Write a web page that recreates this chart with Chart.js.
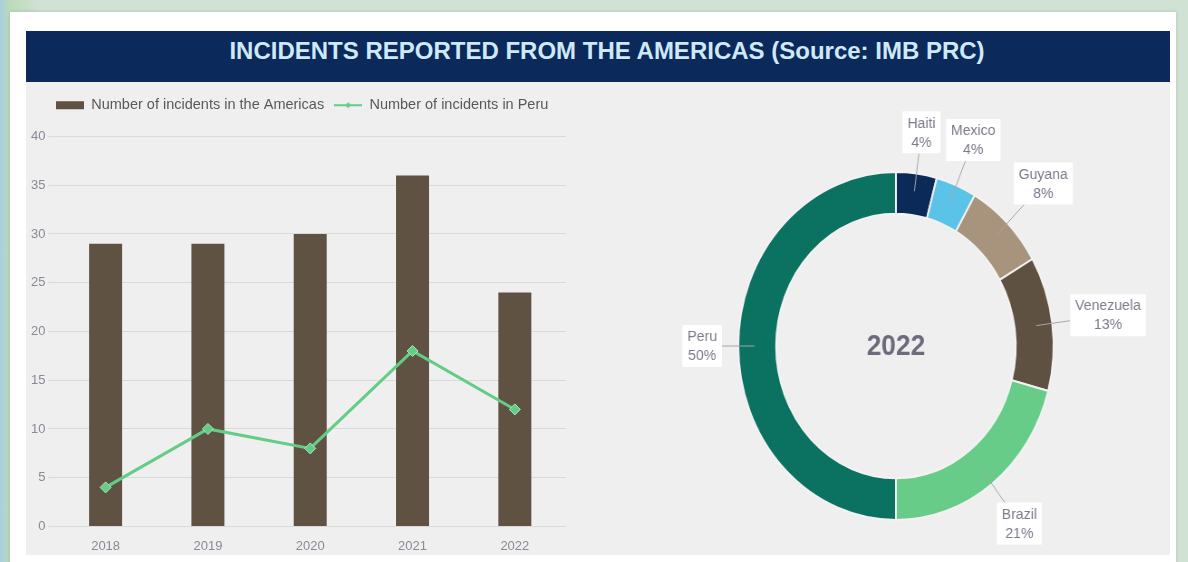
<!DOCTYPE html>
<html>
<head>
<meta charset="utf-8">
<script src="https://cdn.jsdelivr.net/npm/chart.js@4.4.1/dist/chart.umd.min.js"></script>
<style>
  html, body { margin: 0; padding: 0; width: 1188px; height: 562px; overflow: hidden; }
  body {
    position: relative;
    background: linear-gradient(90deg, #a9cfe0 0, #bcdcb8 10px, #cfe2d3 40px, #cfe2d3 100%);
    font-family: "Liberation Sans", Arial, sans-serif;
  }
  #card { position: absolute; left: 10px; top: 12px; width: 1166px; height: 560px; background: #fff; box-shadow: 0 0 4px rgba(0,0,0,0.15); }
  #title {
    position: absolute; left: 26px; top: 31px; width: 1126px; height: 51px; padding-left: 18px;
    background: #0b2a5b; color: #cfe9f8; font-weight: bold; font-size: 24px;
    text-align: center; line-height: 40px;
  }
  #panel { position: absolute; left: 26px; top: 82px; width: 1144px; height: 473px; background: #efefef; }
  #bar { position: absolute; left: 26px; top: 88px; }
  #donut { position: absolute; left: 664px; top: 90px; transform: scaleX(0.906); transform-origin: 0 0; }
</style>
</head>
<body>
<div id="card"></div>
<div id="title">INCIDENTS REPORTED FROM THE AMERICAS (Source: IMB PRC)</div>
<div id="panel"></div>
<canvas id="bar" width="548" height="481"></canvas>
<canvas id="donut" width="560" height="462"></canvas>
<script>
const FONT = '"Liberation Sans", Arial, sans-serif';

// left chart
const years = ['2018', '2019', '2020', '2021', '2022'];
const americasIncidents = [29, 29, 30, 36, 24];
const peruIncidents = [4, 10, 8, 18, 12];
const americasLabel = 'Number of incidents in the Americas';
const peruLabel = 'Number of incidents in Peru';

// donut (2022 breakdown)
const countries = ['Haiti', 'Mexico', 'Guyana', 'Venezuela', 'Brazil', 'Peru'];
const incidents2022 = [1, 1, 2, 3, 5, 12];
const countryColors = ['#0b2a5a', '#5cc3e8', '#a8937c', '#5f5141', '#66cc88', '#0b7261'];

const BROWN = '#5f5242';
const GREEN = '#63cd86';

// legend swatches
function swatch(drawFn) {
  const c = document.createElement('canvas');
  c.width = 28; c.height = 10;
  drawFn(c.getContext('2d'));
  return c;
}
const barSwatch = swatch(ctx => { ctx.fillStyle = BROWN; ctx.fillRect(0, 1, 28, 8); });
const lineSwatch = swatch(ctx => {
  ctx.strokeStyle = GREEN; ctx.lineWidth = 2;
  ctx.beginPath(); ctx.moveTo(0, 5); ctx.lineTo(28, 5); ctx.stroke();
  ctx.fillStyle = GREEN;
  ctx.beginPath(); ctx.moveTo(14, 2); ctx.lineTo(17, 5); ctx.lineTo(14, 8); ctx.lineTo(11, 5); ctx.closePath(); ctx.fill();
});

// push legend right and leave a gap under it
const legendTweak = {
  id: 'legendTweak',
  afterInit(chart) {
    const lg = chart.legend;
    const fit = lg.fit;
    lg.fit = function () { fit.call(this); this.height += 14; };
  },
  afterLayout(chart) { chart.legend.left += 18; }
};

new Chart(document.getElementById('bar'), {
  type: 'bar',
  data: {
    labels: years,
    datasets: [
      {
        type: 'bar', label: americasLabel, data: americasIncidents,
        backgroundColor: BROWN, barPercentage: 0.645, categoryPercentage: 0.5, order: 2
      },
      {
        type: 'line', label: peruLabel, data: peruIncidents,
        borderColor: GREEN, borderWidth: 3, pointStyle: 'rectRot', pointRadius: 5.5,
        pointBackgroundColor: GREEN, pointBorderColor: '#a9e4bd', pointBorderWidth: 1, order: 1
      }
    ]
  },
  options: {
    responsive: false,
    animation: false,
    layout: { padding: { left: 2, right: 8, bottom: 3 } },
    plugins: {
      tooltip: { enabled: false },
      legend: {
        align: 'start',
        labels: {
          usePointStyle: true,
          pointStyleWidth: 28,
          padding: 10,
          color: '#595959',
          font: { size: 14.5, family: FONT },
          sort: (a, b) => a.datasetIndex - b.datasetIndex,
          generateLabels(chart) {
            const items = Chart.defaults.plugins.legend.labels.generateLabels(chart);
            items.forEach(it => { it.pointStyle = it.datasetIndex === 0 ? barSwatch : lineSwatch; });
            return items;
          }
        }
      }
    },
    scales: {
      x: {
        grid: { display: false, drawTicks: false },
        border: { display: false },
        ticks: { padding: 12, color: '#8a8a96', font: { size: 13, family: FONT } }
      },
      y: {
        min: 0, max: 40,
        ticks: { stepSize: 5, padding: 3, color: '#8a8a96', font: { size: 13, family: FONT } },
        grid: { color: '#d9d9d9', tickLength: 6 },
        border: { display: false }
      }
    }
  },
  plugins: [legendTweak]
});

const donutLabels = {
  id: 'donutLabels',
  afterDraw(chart) {
    const ctx = chart.ctx;
    const meta = chart.getDatasetMeta(0);
    const data = chart.data.datasets[0].data;
    const total = data.reduce((a, b) => a + b, 0);
    ctx.save();
    ctx.font = '15.5px ' + FONT;
    ctx.textAlign = 'center';
    ctx.textBaseline = 'middle';
    meta.data.forEach((arc, i) => {
      const p = arc.getProps(['x', 'y', 'startAngle', 'endAngle', 'outerRadius', 'innerRadius'], true);
      const a = (p.startAngle + p.endAngle) / 2;
      const lines = [chart.data.labels[i], Math.round(data[i] / total * 100) + '%'];
      const w = Math.max(...lines.map(t => ctx.measureText(t).width)) + 11;
      const h = 42;
      const cosA = Math.cos(a), sinA = Math.sin(a);
      // keep the box's near edge a fixed gap outside the ring
      const lr = p.outerRadius + 18 + (w / 2) * Math.abs(cosA) + (h / 2) * Math.abs(sinA);
      const cx = p.x + cosA * lr;
      const cy = p.y + sinA * lr;
      // leader line
      const mr = (p.outerRadius + p.innerRadius) / 2 + 3;
      const sx = p.x + cosA * mr;
      const sy = p.y + sinA * mr;
      const dx = sx - cx, dy = sy - cy;
      const t = Math.min((w / 2) / Math.abs(dx || 1e-6), (h / 2) / Math.abs(dy || 1e-6));
      ctx.strokeStyle = '#a6a6a6';
      ctx.lineWidth = 1;
      ctx.beginPath();
      ctx.moveTo(sx, sy);
      ctx.lineTo(cx + dx * t, cy + dy * t);
      ctx.stroke();
      // label box
      ctx.fillStyle = '#ffffff';
      ctx.fillRect(cx - w / 2, cy - h / 2, w, h);
      ctx.fillStyle = '#7b7b8c';
      ctx.fillText(lines[0], cx, cy - 9);
      ctx.fillText(lines[1], cx, cy + 10);
    });
    const c = meta.data[0];
    ctx.font = 'bold 29px ' + FONT;
    ctx.fillStyle = '#6b6b7d';
    ctx.fillText('2022', c.x, c.y + 1);
    ctx.restore();
  }
};

new Chart(document.getElementById('donut'), {
  type: 'doughnut',
  data: {
    labels: countries,
    datasets: [{ data: incidents2022, backgroundColor: countryColors, borderColor: '#f2f2f2', borderWidth: 2 }]
  },
  options: {
    responsive: false,
    animation: false,
    cutout: '76%',
    layout: { padding: { top: 81, left: 81, right: 129, bottom: 31 } },
    plugins: { legend: { display: false }, tooltip: { enabled: false } }
  },
  plugins: [donutLabels]
});
</script>
</body>
</html>
